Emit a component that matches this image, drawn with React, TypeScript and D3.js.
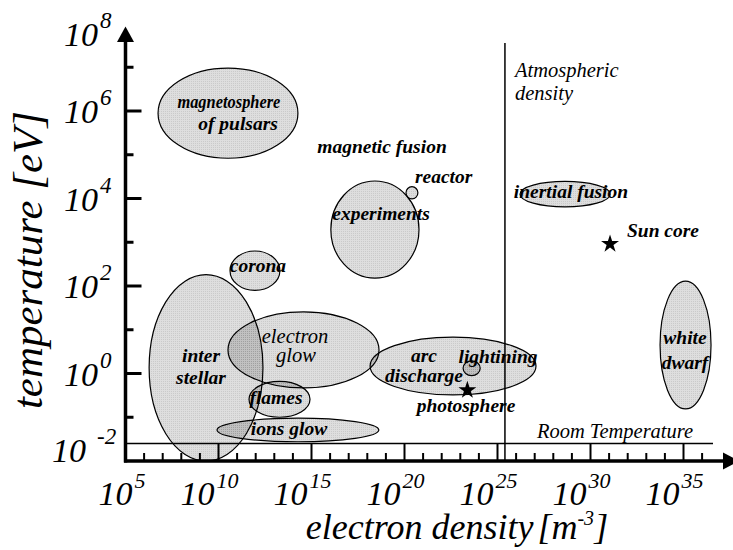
import React from 'react';
import * as d3 from 'd3';

// Plasma regimes: centre and half-extent, in decades of density [m^-3] and temperature [eV]
const regionNames = [
  'magnetosphere of pulsars', 'magnetic fusion experiments', 'magnetic fusion reactor', 'corona',
  'interstellar', 'electron glow', 'flames', 'ions glow', 'arc discharge', 'lightning',
  'inertial fusion', 'white dwarf',
];
const regionDensityExp = [10.51, 18.41, 20.4, 11.96, 9.33, 14.57, 13.28, 14.27, 22.61, 23.61, 28.63, 35.11];
const regionDensitySpan = [3.76, 2.37, 0.32, 1.34, 3.06, 4.06, 1.64, 4.35, 4.46, 0.46, 2.42, 1.37];
const regionTempExp = [5.95, 3.29, 4.13, 2.35, 0.13, 0.54, -0.59, -1.29, 0.17, 0.12, 4.1, 0.65];
const regionTempSpan = [1.03, 1.11, 0.14, 0.45, 2.13, 0.87, 0.41, 0.27, 0.66, 0.17, 0.29, 1.46];

// Point objects
const starNames = ['Sun core', 'photosphere'];
const starDensityExp = [31.05, 23.38];
const starTempExp = [2.96, -0.38];

// Reference levels
const atmosphericDensityExp = 25.4;
const roomTemperatureExp = -1.6;

// Annotations: text, density exponent, temperature exponent, bold?, anchor
const labelTexts = [
  'magnetosphere', 'of pulsars', 'magnetic fusion', 'reactor', 'experiments', 'corona',
  'inter', 'stellar', 'electron', 'glow', 'flames', 'ions glow', 'arc', 'discharge',
  'lightining', 'photosphere', 'inertial fusion', 'Sun core', 'white', 'dwarf',
  'Atmospheric', 'density', 'Room Temperature',
];
const labelDensityExp = [
  10.56, 11.05, 18.79, 20.56, 18.74, 12.12, 9.06, 9.06, 14.11, 14.17, 13.09, 13.79, 21.05, 21.05,
  25.03, 23.31, 28.95, 31.96, 35.08, 35.08, 25.94, 25.94, 27.12,
];
const labelTempExp = [
  6.07, 5.57, 5.04, 4.35, 3.51, 2.32, 0.26, -0.24, 0.7, 0.26, -0.7, -1.41, 0.26, -0.19,
  0.24, -0.88, 4.01, 3.12, 0.67, 0.1, 6.78, 6.25, -1.47,
];
const labelBold = [
  true, true, true, true, true, true, true, true, false, false, true, true, true, true,
  true, true, true, true, true, true, false, false, false,
];
const labelStart = [
  false, false, false, true, false, false, false, false, false, false, false, false, false, false,
  false, false, false, true, false, false, true, true, true,
];

// Axis ticks (exponents of ten)
const xMajorExps = [5, 10, 15, 20, 25, 30, 35];
const xMinorExps = d3.range(6, 37).filter((e) => e % 5 !== 0);
const yMajorExps = [8, 6, 4, 2, 0, -2];
const yMinorExps = [7, 5, 3, 1, -1];

const W = 733;
const H = 550;
const SERIF = 'Liberation Serif, Times New Roman, Times, serif';
// the long first line of the pulsar label is set condensed to fit its ellipse
const condensedWidth: Record<string, number> = { magnetosphere: 103 };

export default function App() {
  const x = d3.scaleLog().domain([1e5, 1e38]).range([125.5, 125.5 + 33 * 18.6]);
  const y = d3.scaleLog().domain([1e-2, 1e8]).range([461, 23.5]);
  const X = (e: number) => x(Math.pow(10, e));
  const Y = (e: number) => y(Math.pow(10, e));

  const x0 = X(5);
  const y0 = Y(-2);

  const regions = regionNames.map((name, i) => {
    const cx = X(regionDensityExp[i]);
    const cy = Y(regionTempExp[i]);
    const rx = X(regionDensityExp[i] + regionDensitySpan[i]) - cx;
    const ry = cy - Y(regionTempExp[i] + regionTempSpan[i]);
    return { name, cx, cy, rx, ry };
  });

  const star = d3.symbol().type(d3.symbolStar).size(100)();
  const serif = { fontFamily: SERIF, fontStyle: 'italic' as const };

  return (
    <svg width={W} height={H} style={{ position: 'absolute', left: 0, top: 0, background: '#fff' }}>
      <defs>
        <pattern id="grain" width="2" height="2" patternUnits="userSpaceOnUse">
          <rect width="2" height="2" fill="#000" fillOpacity={0.13} />
          <rect x="1" y="1" width="1" height="1" fill="#000" fillOpacity={0.09} />
        </pattern>
      </defs>

      {/* region fills, then outlines on top */}
      <g>
        {regions.map((r) => (
          <ellipse key={r.name} cx={r.cx} cy={r.cy} rx={r.rx} ry={r.ry} fill="url(#grain)" />
        ))}
      </g>
      <g fill="none" stroke="#000" strokeWidth={1.2}>
        {regions.map((r) => (
          <ellipse key={r.name} cx={r.cx} cy={r.cy} rx={r.rx} ry={r.ry} />
        ))}
      </g>

      {/* reference lines */}
      <line x1={X(atmosphericDensityExp)} x2={X(atmosphericDensityExp)} y1={43} y2={y0} stroke="#000" strokeWidth={1.5} />
      <line x1={x0} x2={713} y1={Y(roomTemperatureExp)} y2={Y(roomTemperatureExp)} stroke="#000" strokeWidth={1.5} />

      {/* stars */}
      {starNames.map((n, i) => (
        <path key={n} d={star!} transform={`translate(${X(starDensityExp[i])},${Y(starTempExp[i])})`} fill="#000" />
      ))}

      {/* annotations */}
      <g style={serif} fill="#000">
        {labelTexts.map((t, i) => (
          <text
            key={t + i}
            x={X(labelDensityExp[i])}
            y={Y(labelTempExp[i])}
            style={{
              fontWeight: labelBold[i] ? 'bold' : 'normal',
              fontSize: labelBold[i] ? 19.5 : 20.5,
            }}
            textAnchor={labelStart[i] ? 'start' : 'middle'}
            {...(condensedWidth[t]
              ? { textLength: condensedWidth[t], lengthAdjust: 'spacingAndGlyphs' }
              : {})}
          >
            {t}
          </text>
        ))}
      </g>

      {/* axes */}
      <g stroke="#000">
        <line x1={x0} x2={x0} y1={y0 + 1.5} y2={40} strokeWidth={3.5} />
        <line x1={x0 - 1.5} x2={724} y1={y0} y2={y0} strokeWidth={3.5} />
        {xMajorExps.filter((e) => e > 5).map((e) => (
          <line key={e} x1={X(e)} x2={X(e)} y1={y0} y2={y0 - 17} strokeWidth={2} />
        ))}
        {xMinorExps.map((e) => (
          <line key={e} x1={X(e)} x2={X(e)} y1={y0} y2={y0 - 8} strokeWidth={2} />
        ))}
        {yMajorExps.filter((e) => e > -2 && e < 8).map((e) => (
          <line key={e} x1={x0} x2={x0 + 16} y1={Y(e)} y2={Y(e)} strokeWidth={3} />
        ))}
        {yMinorExps.map((e) => (
          <line key={e} x1={x0} x2={x0 + 8} y1={Y(e)} y2={Y(e)} strokeWidth={3} />
        ))}
      </g>
      <path d={`M${x0},26.5L${x0 + 8.5},42L${x0 - 8.5},42Z`} fill="#000" />
      <path d={`M739,${y0}L723,${y0 - 8.5}L723,${y0 + 8.5}Z`} fill="#000" />

      {/* tick labels */}
      <g style={serif} fill="#000">
        {xMajorExps.map((e, i) => {
          const nudge = i === 0 ? 11 : 0;
          return (
            <text key={e} x={X(e) + nudge - 38} y={505} style={{ fontSize: 34 }}>
              10
              <tspan dx={2} dy={-17} style={{ fontSize: 22 }}>{e}</tspan>
            </text>
          );
        })}
        {yMajorExps.map((e, i) => {
          const nudge = i === 0 ? 10 : i === yMajorExps.length - 1 ? -11 : 0;
          const ty = Y(e) + 12 + nudge;
          const neg = e < 0;
          return (
            <text key={e} x={neg ? 52 : 64} y={ty} style={{ fontSize: 34 }}>
              10
              <tspan dx={neg ? 11 : 2} dy={-18} style={{ fontSize: 23 }}>{neg ? `-${-e}` : e}</tspan>
            </text>
          );
        })}
      </g>

      {/* axis titles */}
      <text style={{ ...serif, fontSize: 36 }} x={457} y={539} textAnchor="middle">
        electron density
        <tspan dx={4}>[m</tspan>
        <tspan dy={-14} style={{ fontSize: 20 }}>-3</tspan>
        <tspan dy={14}>]</tspan>
      </text>
      <text
        style={{ ...serif, fontSize: 43 }}
        transform="translate(42,260) rotate(-90)"
        textAnchor="middle"
      >
        temperature [eV]
      </text>
    </svg>
  );
}
